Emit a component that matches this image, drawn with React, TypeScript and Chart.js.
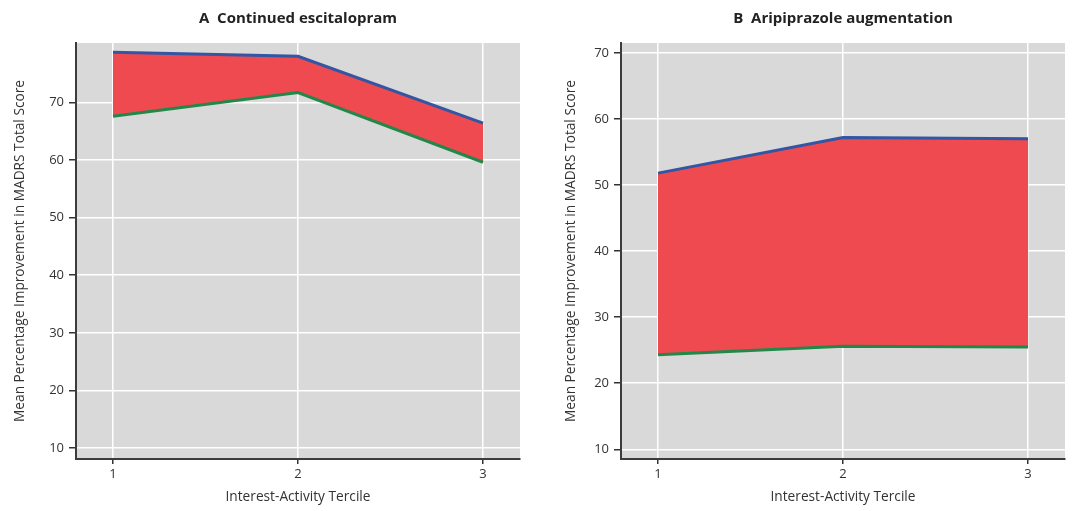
import React, { useEffect, useRef } from "react";
import { Chart, registerables } from "chart.js";

Chart.register(...registerables);

// ---- data ----
const terciles = [1, 2, 3];
const xTicks = [1, 2, 3];
const yTicks = [10, 20, 30, 40, 50, 60, 70];
const escitalopramUpper = [78.7, 78.0, 66.4];
const escitalopramLower = [67.6, 71.7, 59.6];
const aripiprazoleUpper = [51.8, 57.2, 57.0];
const aripiprazoleLower = [24.3, 25.6, 25.5];
const panelTitles = ["A  Continued escitalopram", "B  Aripiprazole augmentation"];
const xAxisTitle = "Interest-Activity Tercile";
const yAxisTitle = "Mean Percentage Improvement in MADRS Total Score";

const FONT = "'Open Sans', 'DejaVu Sans', sans-serif";
const TEXT = "#333333";

const plotBg = {
  id: "plotBg",
  beforeDraw(chart: any) {
    const { ctx, chartArea: a } = chart;
    ctx.save();
    ctx.fillStyle = "#d9d9d9";
    ctx.fillRect(a.left, a.top, a.right - a.left, a.bottom - a.top);
    ctx.restore();
  },
};

type PanelProps = {
  title: string;
  upper: number[];
  lower: number[];
  yMin: number;
  yMax: number;
  yAxisWidth: number;
  rightPad: number;
  yTitlePad: number;
  left: number;
};

function Panel(p: PanelProps) {
  const ref = useRef<HTMLCanvasElement | null>(null);
  useEffect(() => {
    if (!ref.current) return;
    const pts = (vals: number[]) => terciles.map((x, i) => ({ x, y: vals[i] }));
    const chart = new Chart(ref.current, {
      type: "line",
      data: {
        datasets: [
          {
            label: "lower",
            data: pts(p.lower),
            borderColor: "#22884a",
            borderWidth: 3,
            pointRadius: 0,
            fill: false,
            tension: 0,
          },
          {
            label: "upper",
            data: pts(p.upper),
            borderColor: "#3355a3",
            borderWidth: 3,
            pointRadius: 0,
            backgroundColor: "#ee4a50",
            fill: "-1",
            tension: 0,
          },
        ],
      },
      options: {
        animation: false,
        responsive: false,
        maintainAspectRatio: false,
        devicePixelRatio: 1,
        layout: { padding: { left: 0, right: p.rightPad, top: 0, bottom: 0 } },
        plugins: {
          legend: { display: false },
          tooltip: { enabled: false },
          title: {
            display: true,
            text: p.title,
            fullSize: false,
            color: "#222222",
            font: { family: FONT, size: 15, weight: "bold" },
            padding: { top: 9.3, bottom: 15.7 },
          },
        },
        scales: {
          x: {
            type: "linear",
            min: 0.8,
            max: 3.2,
            afterBuildTicks: (s: any) => {
              s.ticks = xTicks.map((v) => ({ value: v }));
            },
            afterFit: (s: any) => {
              s.height = 52;
            },
            ticks: {
              color: TEXT,
              font: { family: FONT, size: 13 },
              padding: 2,
              callback: (v: any) => String(v),
            },
            grid: {
              color: "#ffffff",
              lineWidth: 1.5,
              tickColor: "#333333",
              tickLength: 5,
            },
            border: { color: "#3c3c3c", width: 2 },
            title: {
              display: true,
              text: xAxisTitle,
              color: TEXT,
              font: { family: FONT, size: 13.7 },
              padding: { top: 0, bottom: 5.8 },
            },
          },
          y: {
            type: "linear",
            min: p.yMin,
            max: p.yMax,
            afterBuildTicks: (s: any) => {
              s.ticks = yTicks.map((v) => ({ value: v }));
            },
            afterFit: (s: any) => {
              s.width = p.yAxisWidth;
            },
            ticks: {
              color: TEXT,
              font: { family: FONT, size: 13 },
              padding: 5,
              callback: (v: any) => String(v),
            },
            grid: {
              color: "#ffffff",
              lineWidth: 1.5,
              tickColor: "#333333",
              tickLength: 7,
            },
            border: { color: "#3c3c3c", width: 2 },
            title: {
              display: true,
              text: yAxisTitle,
              color: TEXT,
              font: { family: FONT, size: 13.7 },
              padding: { top: p.yTitlePad, bottom: 0 },
            },
          },
        },
      },
      plugins: [plotBg],
    } as any);
    return () => chart.destroy();
  }, []);
  return (
    <canvas
      ref={ref}
      width={540}
      height={511}
      style={{ position: "absolute", left: p.left, top: 0, width: 540, height: 511 }}
    />
  );
}

export default function App() {
  return (
    <div
      style={{
        position: "absolute",
        left: 0,
        top: 0,
        width: 1080,
        height: 511,
        background: "#ffffff",
        overflow: "hidden",
      }}
    >
      <Panel
        title={panelTitles[0]}
        upper={escitalopramUpper}
        lower={escitalopramLower}
        yMin={8.1}
        yMax={80.3}
        yAxisWidth={76}
        rightPad={20}
        yTitlePad={11.8}
        left={0}
      />
      <Panel
        title={panelTitles[1]}
        upper={aripiprazoleUpper}
        lower={aripiprazoleLower}
        yMin={8.53}
        yMax={71.5}
        yAxisWidth={81}
        rightPad={15}
        yTitlePad={22.8}
        left={540}
      />
    </div>
  );
}
